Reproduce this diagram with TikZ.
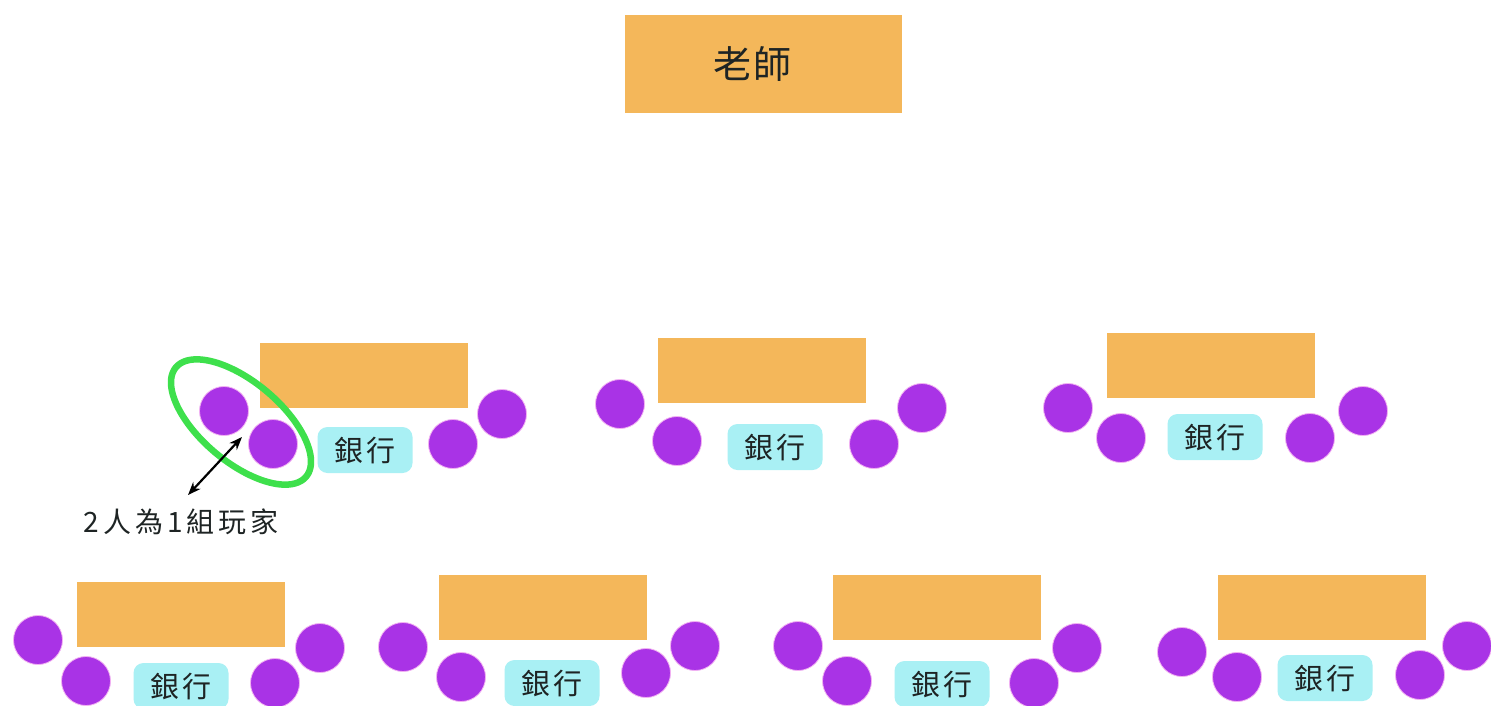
\documentclass[tikz,border=0pt]{standalone}
\usepackage{fontspec}
\newfontfamily\cjk{Noto Sans CJK TC}
\usetikzlibrary{arrows.meta}
\definecolor{tablec}{HTML}{F4B75A}
\definecolor{seatc}{HTML}{A933E6}
\definecolor{seatedge}{HTML}{F2B0F2}
\definecolor{bankc}{HTML}{A9F0F4}
\definecolor{ringc}{HTML}{3EE04C}
\definecolor{inkc}{HTML}{1E2424}
\tikzset{
  tablebox/.style={fill=tablec, minimum width=208pt, minimum height=65pt, inner sep=0pt, anchor=north west},
  seat/.style={circle, fill=seatc, draw=seatedge, line width=0.8pt, minimum size=49pt, inner sep=0pt},
  bank/.style={rounded corners=10pt, fill=bankc, minimum width=95pt, minimum height=46pt, inner sep=0pt, text=inkc, font=\cjk\fontsize{29}{29}\selectfont\addfontfeatures{LetterSpace=8}},
  teacherbox/.style={fill=tablec, minimum width=277pt, minimum height=98pt, inner sep=0pt, text=inkc, font=\cjk\fontsize{38}{38}\selectfont\addfontfeatures{LetterSpace=5}},
  note/.style={text=inkc, inner sep=0pt, font=\cjk\fontsize{28}{28}\selectfont\addfontfeatures{LetterSpace=14}},
  ring/.style={draw=ringc, line width=6.5pt},
  pointer/.style={{Stealth[length=13pt,width=10pt]}-{Stealth[length=13pt,width=10pt]}, line width=2.2pt, draw=black}
}
\begin{document}
\begin{tikzpicture}[x=1pt,y=-1pt]
\useasboundingbox (0,0) rectangle (1491,705);
\clip (0,0) rectangle (1491,705);
\fill[white] (0,0) rectangle (1491,705);

% teacher
\node[teacherbox] (teacher) at (763.5,64) {\kern-22pt 老師};

% top row group 1
\node[tablebox] (t1) at (260,343) {};
\node[seat] (s11) at (224,411) {};
\node[seat] (s12) at (273,444) {};
\node[seat] (s13) at (453,444) {};
\node[seat] (s14) at (502,414) {};
\node[bank] (b1) at (365,450) {銀行};

% top row group 2
\node[tablebox] (t2) at (658,338) {};
\node[seat] (s21) at (620,404) {};
\node[seat] (s22) at (677,441) {};
\node[seat] (s23) at (874,444) {};
\node[seat] (s24) at (922,408) {};
\node[bank] (b2) at (775,447) {銀行};

% top row group 3
\node[tablebox] (t3) at (1107,333) {};
\node[seat] (s31) at (1068,408) {};
\node[seat] (s32) at (1121,438) {};
\node[seat] (s33) at (1310,438) {};
\node[seat] (s34) at (1363,411) {};
\node[bank] (b3) at (1215,437) {銀行};

% bottom row group 1
\node[tablebox] (t4) at (77,582) {};
\node[seat] (s41) at (38,640) {};
\node[seat] (s42) at (86,681) {};
\node[seat] (s43) at (275,683) {};
\node[seat] (s44) at (320,648) {};
\node[bank] (b4) at (181,686) {銀行};

% bottom row group 2
\node[tablebox] (t5) at (439,575) {};
\node[seat] (s51) at (403,647) {};
\node[seat] (s52) at (461,677) {};
\node[seat] (s53) at (646,673) {};
\node[seat] (s54) at (695,646) {};
\node[bank] (b5) at (552,683) {銀行};

% bottom row group 3
\node[tablebox] (t6) at (833,575) {};
\node[seat] (s61) at (798,646) {};
\node[seat] (s62) at (847,681) {};
\node[seat] (s63) at (1034,683) {};
\node[seat] (s64) at (1077,648) {};
\node[bank] (b6) at (942,684) {銀行};

% bottom row group 4
\node[tablebox] (t7) at (1218,575) {};
\node[seat] (s71) at (1182,652) {};
\node[seat] (s72) at (1237,677) {};
\node[seat] (s73) at (1420,675) {};
\node[seat] (s74) at (1467,646) {};
\node[bank] (b7) at (1325,678) {銀行};

% pair highlight
\draw[ring] plot[domain=0:360, samples=145]
  ({241 + 85*cos(\x)*cos(40) - 40*sin(\x)*sin(40)},
   {422 + 85*cos(\x)*sin(40) + 40*sin(\x)*cos(40)}) -- cycle;

% label and pointer
\node[note] (lbl) at (181,522) {2人為1組玩家};
\coordinate (pa) at (188,495);
\coordinate (pb) at (242,437);
\draw[pointer] (pa) -- (pb);
\end{tikzpicture}
\end{document}
